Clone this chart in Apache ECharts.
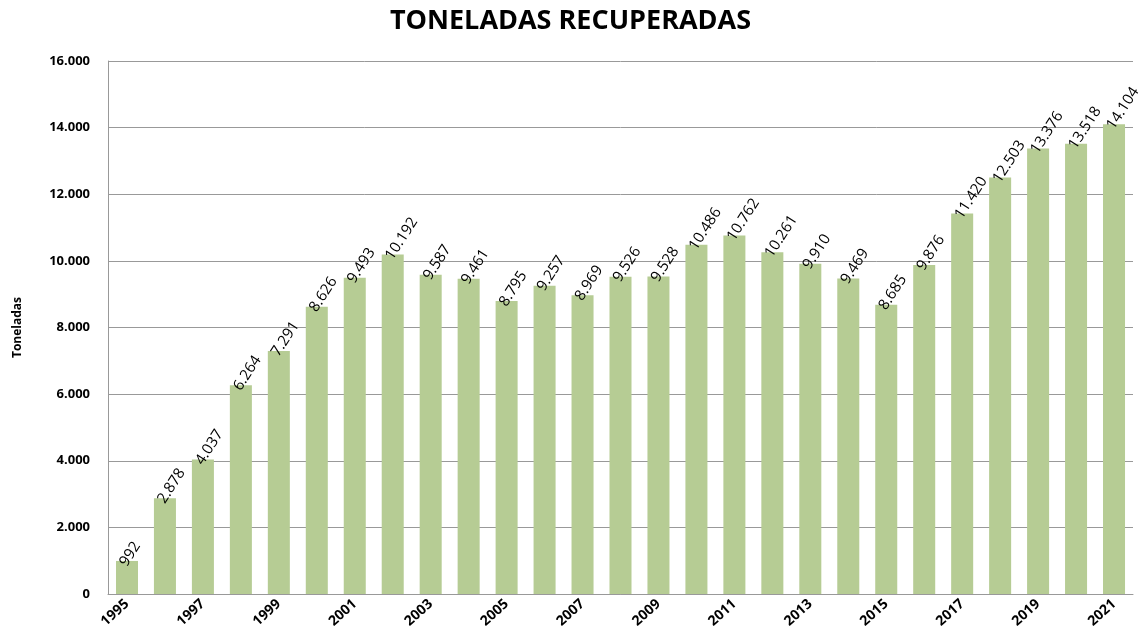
<!DOCTYPE html>
<html>
<head>
    <meta charset="utf-8">
    <title>Toneladas recuperadas</title>
    <script src="https://cdn.jsdelivr.net/npm/echarts@6/dist/echarts.min.js"></script>
</head>
<body style="margin:0;background:#fff;">
    <div id="main" style="width:1141px;height:636px;"></div>
    <script type="text/javascript">
        // años y toneladas recuperadas
        var years = ['1995', '1996', '1997', '1998', '1999', '2000', '2001', '2002', '2003', '2004',
            '2005', '2006', '2007', '2008', '2009', '2010', '2011', '2012', '2013', '2014',
            '2015', '2016', '2017', '2018', '2019', '2020', '2021'];
        var toneladas = [992, 2878, 4037, 6264, 7291, 8626, 9493, 10192, 9587, 9461,
            8795, 9257, 8969, 9526, 9528, 10486, 10762, 10261, 9910, 9469,
            8685, 9876, 11420, 12503, 13376, 13518, 14104];
        var yTicks = [0, 2000, 4000, 6000, 8000, 10000, 12000, 14000, 16000];

        function fmt(v) {
            return String(v).replace(/\B(?=(\d{3})+(?!\d))/g, '.');
        }

        var myChart = echarts.init(document.getElementById('main'));
        var option = {
            animation: false,
            textStyle: { fontFamily: 'Open Sans' },
            title: {
                text: 'TONELADAS RECUPERADAS',
                left: 'center',
                top: 3,
                textStyle: { fontSize: 27, fontWeight: 'bold', color: '#000', fontFamily: 'Open Sans' }
            },
            grid: { left: 108, right: 8, top: 61, bottom: 42 },
            xAxis: {
                type: 'category',
                data: years,
                axisLine: { lineStyle: { color: '#999' } },
                axisTick: { show: false },
                axisLabel: {
                    interval: 1,
                    rotate: 42,
                    color: '#000',
                    fontWeight: 'bold',
                    fontSize: 14,
                    margin: 8
                }
            },
            yAxis: {
                type: 'value',
                min: yTicks[0],
                max: yTicks[yTicks.length - 1],
                interval: 2000,
                name: 'Toneladas',
                nameLocation: 'middle',
                nameGap: 84,
                nameTextStyle: { fontWeight: 'bold', fontSize: 12, color: '#000' },
                axisLine: { show: true, lineStyle: { color: '#999' } },
                splitLine: { lineStyle: { color: '#999', width: 1 } },
                axisLabel: {
                    color: '#000',
                    fontWeight: 'bold',
                    fontSize: 13,
                    margin: 18,
                    formatter: fmt
                }
            },
            series: [{
                type: 'bar',
                data: toneladas,
                barWidth: '58%',
                itemStyle: { color: '#b6cc94' },
                label: {
                    show: true,
                    position: 'top',
                    rotate: 57,
                    align: 'left',
                    verticalAlign: 'middle',
                    distance: 2,
                    offset: [-7, 0],
                    color: '#000',
                    fontSize: 15,
                    fontWeight: 500,
                    formatter: function (p) { return fmt(p.value); }
                }
            }]
        };
        myChart.setOption(option);
    </script>
</body>
</html>
